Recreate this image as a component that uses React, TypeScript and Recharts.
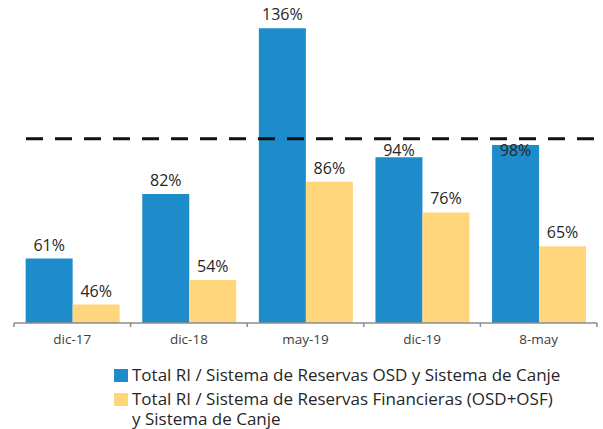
import React from 'react';
import { BarChart, Bar, XAxis, YAxis, ReferenceLine, LabelList } from 'recharts';

const categories = ['dic-17', 'dic-18', 'may-19', 'dic-19', '8-may'];
const osdValues = [61, 82, 136, 94, 98];
const financierasValues = [46, 54, 86, 76, 65];
const targetLevel = 100;
const yDomain = [40, 140];
const seriesNames = [
  'Total RI / Sistema de Reservas OSD y Sistema de Canje',
  'Total RI / Sistema de Reservas Financieras (OSD+OSF)\ny Sistema de Canje',
];
const seriesColors = ['#1E8BCB', '#FFD67B'];

const data = categories.map((c, i) => ({
  cat: c,
  osd: osdValues[i],
  fin: financierasValues[i],
}));

const FONT = '"Open Sans", Lato, sans-serif';

const renderLabel = (props: any) => {
  const { x, y, width, height, value } = props;
  const cx = x + width / 2;
  const base = y + height;
  const ppu = height / (value - yDomain[0]);
  const lineY = base - (targetLevel - yDomain[0]) * ppu;
  let baseline = y - 8;
  const center = baseline - 6;
  if (Math.abs(center - lineY) < 10) {
    baseline = lineY + 17;
  }
  return (
    <text x={cx} y={baseline} textAnchor="middle" fontSize={16} fill="#262626" fontFamily={FONT}>
      {`${value}%`}
    </text>
  );
};

const AxisTick = (props: any) => {
  const { x, y, payload, index, visibleTicksCount } = props;
  const half = payload && payload.offset ? payload.offset : 58.3;
  const last = index === (visibleTicksCount ?? categories.length) - 1;
  return (
    <g>
      <line x1={x - half} x2={x - half} y1={y} y2={y + 4} stroke="#8c8c8c" strokeWidth={1.5} />
      {last && <line x1={x + half} x2={x + half} y1={y} y2={y + 4} stroke="#8c8c8c" strokeWidth={1.5} />}
      <text x={x} y={y + 21} textAnchor="middle" fontSize={13.5} fill="#404040" fontFamily={FONT}>
        {payload.value}
      </text>
    </g>
  );
};

export default function App() {
  return (
    <div style={{ position: 'absolute', left: 0, top: 0, width: 603, height: 429, background: '#fff' }}>
      <BarChart
        width={603}
        height={429}
        data={data}
        margin={{ top: 16, right: 6, left: 14, bottom: 76 }}
        barCategoryGap="10%"
        barGap={0}
      >
        <XAxis
          dataKey="cat"
          height={30}
          axisLine={{ stroke: '#8c8c8c', strokeWidth: 1.5 }}
          tickLine={false}
          tickSize={0}
          tickMargin={0}
          tick={<AxisTick />}
          interval={0}
        />
        <YAxis hide domain={yDomain} allowDataOverflow type="number" />
        <Bar dataKey="osd" fill={seriesColors[0]} isAnimationActive={false}>
          <LabelList dataKey="osd" content={renderLabel} />
        </Bar>
        <Bar dataKey="fin" fill={seriesColors[1]} isAnimationActive={false}>
          <LabelList dataKey="fin" content={renderLabel} />
        </Bar>
        <ReferenceLine
          y={targetLevel}
          stroke="#111"
          strokeWidth={3}
          strokeDasharray="17 12"
          strokeDashoffset={17}
        />
      </BarChart>
      <div
        style={{
          position: 'absolute',
          left: 114,
          top: 365,
          fontFamily: FONT,
          fontSize: 17,
          color: '#262626',
          lineHeight: '20px',
        }}
      >
        {seriesNames.map((name, i) => (
          <div key={i} style={{ display: 'flex', alignItems: 'flex-start', marginBottom: 4 }}>
            <span
              style={{
                display: 'inline-block',
                width: 14,
                height: 13,
                background: seriesColors[i],
                marginTop: 4,
                marginRight: 4,
                flex: 'none',
              }}
            />
            <span style={{ whiteSpace: 'pre' }}>{name}</span>
          </div>
        ))}
      </div>
    </div>
  );
}
